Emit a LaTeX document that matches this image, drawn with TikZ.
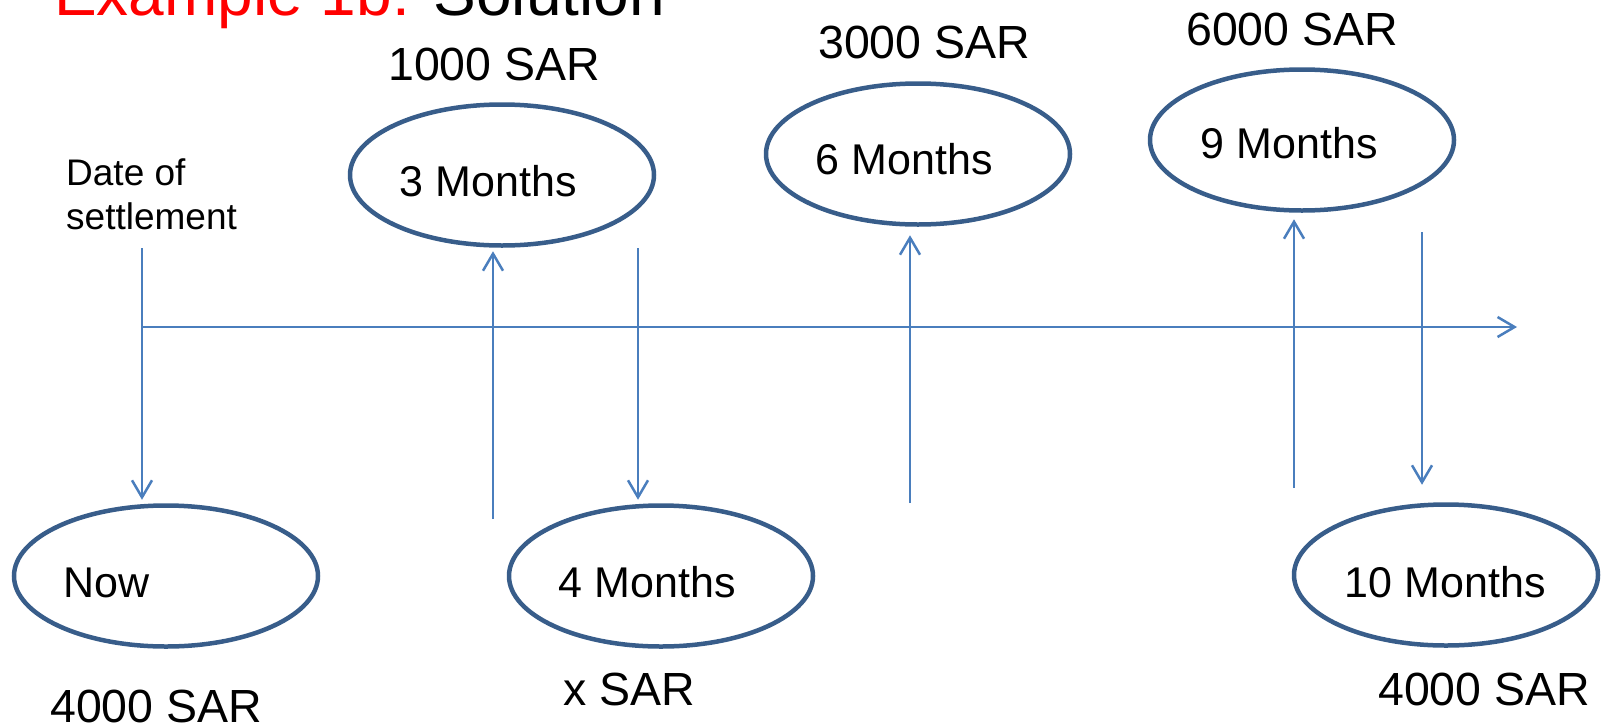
\documentclass[tikz,border=0pt]{standalone}
\usepackage{fontspec}
\setmainfont{Liberation Sans}
\usepackage{tikz}
\usetikzlibrary{arrows.meta, positioning, shapes.geometric, calc}

\definecolor{lineblue}{RGB}{74,126,189}
\definecolor{ovalblue}{RGB}{56,93,138}
\definecolor{titlered}{RGB}{255,0,0}

\begin{document}
\begin{tikzpicture}[x=1pt, y=-1pt, >={Straight Barb[length=17pt, width=20pt]},
		period/.style={ellipse, draw=ovalblue, line width=4.5pt, minimum width=304pt, minimum height=141pt, inner sep=0pt},
		lbl/.style={anchor=base west, inner sep=0pt, font=\fontsize{43}{50}\selectfont},
		amount/.style={anchor=base west, inner sep=0pt, font=\fontsize{46.5}{54}\selectfont},
		flow/.style={draw=lineblue, line width=2.5pt}]
		
		\useasboundingbox (0,0) rectangle (1603,726);
		
		% Titulo
		\node[anchor=base west, inner sep=0pt, font=\fontsize{64}{72}\selectfont] (title) at (54,15)
			{\textcolor{titlered}{Example 1b:} Solution};
		
		% Periodos
		\node[period] (now) at (166,576) {};
		\node[period] (m3) at (502,175) {};
		\node[period] (m4) at (661,576) {};
		\node[period] (m6) at (918,154) {};
		\node[period] (m9) at (1302,140) {};
		\node[period] (m10) at (1446,575) {};
		
		\node[lbl] (tnow) at ($(now.west)+(52,21)$) {Now};
		\node[lbl] (t3) at ($(m3.west)+(52,21)$) {3 Months};
		\node[lbl] (t4) at ($(m4.west)+(52,21)$) {4 Months};
		\node[lbl] (t6) at ($(m6.west)+(52,20)$) {6 Months};
		\node[lbl] (t9) at ($(m9.west)+(53,18)$) {9 Months};
		\node[lbl] (t10) at ($(m10.west)+(53,22)$) {10 Months};
		
		% Montos
		\node[amount] (a3) at (388,80) {1000 SAR};
		\node[amount] (a6) at (818,58) {3000 SAR};
		\node[amount] (a9) at (1186,45) {6000 SAR};
		\node[amount] (anow) at (50,722) {4000 SAR};
		\node[amount] (a4) at (563,705) {x SAR};
		\node[amount] (a10) at (1378,705) {4000 SAR};
		
		\node[anchor=base west, inner sep=0pt, align=left, font=\fontsize{37}{44}\selectfont] (settle) at (66,229)
			{Date of\\settlement};
		
		% Eje
		\coordinate (d0) at (142,248);
		\coordinate (u3) at (493,519);
		\coordinate (d4) at (638,248);
		\coordinate (u6) at (910,503);
		\coordinate (u9) at (1294,488);
		\coordinate (d10) at (1422,232);
		\coordinate (t0) at (142,327);
		\coordinate (tend) at (1517,327);
		
		\draw[flow, ->] (t0) -- (tend);
		\draw[flow, ->, shorten >=3.5pt] (d0) -- (d0 |- now.north);
		\draw[flow, ->, shorten >=3.5pt] (u3) -- (u3 |- m3.south);
		\draw[flow, ->, shorten >=3.5pt] (d4) -- (d4 |- m4.north);
		\draw[flow, ->, shorten >=8.5pt] (u6) -- (u6 |- m6.south);
		\draw[flow, ->, shorten >=6.5pt] (u9) -- (u9 |- m9.south);
		\draw[flow, ->, shorten >=17.5pt] (d10) -- (d10 |- m10.north);
		
	\end{tikzpicture}
\end{document}
